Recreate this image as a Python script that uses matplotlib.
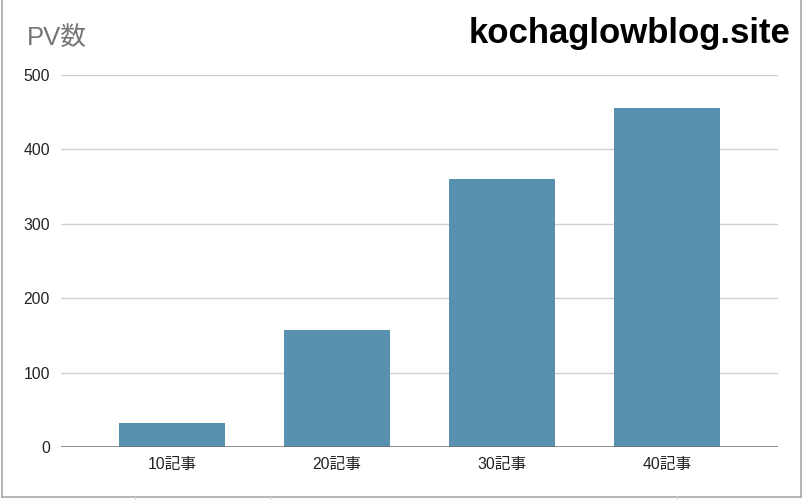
import matplotlib
matplotlib.use('Agg')
import matplotlib.pyplot as plt
from matplotlib.lines import Line2D

plt.rcParams['font.family'] = ['Liberation Sans', 'Noto Sans CJK JP', 'DejaVu Sans']

# データ
categories = ['10記事', '20記事', '30記事', '40記事']
pv_values = [32, 157, 360, 456]
y_ticks = [0, 100, 200, 300, 400, 500]

fig = plt.figure(figsize=(8.05, 5.00), dpi=100)
ax = fig.add_axes([61 / 805, 1 - 447 / 500, (778 - 61) / 805, (447 - 75) / 500])

x = list(range(len(categories)))
ax.bar(x, pv_values, width=0.645, color='#5891AF', zorder=3)

ax.set_xlim(-0.674, 3.674)
ax.set_ylim(0, 500)
ax.set_yticks(y_ticks)
ax.set_xticks(x)
ax.set_xticklabels(categories)
ax.grid(axis='y', color='#d0d0d0', linewidth=1.0, zorder=0)
ax.axhline(0, color='#6f6f6f', linewidth=1.8, zorder=4)

for s in ax.spines.values():
    s.set_visible(False)
ax.tick_params(axis='both', length=0, labelsize=11.3, colors='#222222')
ax.tick_params(axis='y', pad=8)
ax.tick_params(axis='x', pad=7)

fig.text(27 / 805, 1 - 38 / 500, 'PV数', fontsize=18.5, color='#757575',
         ha='left', va='center')
fig.text(790 / 805, 1 - 33 / 500, 'kochaglowblog.site', fontsize=25,
         fontweight='bold', color='#000000', ha='right', va='center')

# スクリーンショットの枠線
frame_kw = dict(color='#a8a8a8', linewidth=1.2, transform=fig.transFigure)
fig.add_artist(Line2D([1.5 / 805, 1.5 / 805], [1 - 497 / 500, 1], **frame_kw))
fig.add_artist(Line2D([801 / 805, 801 / 805], [1 - 497 / 500, 1], **frame_kw))
fig.add_artist(Line2D([1.5 / 805, 801 / 805], [1 - 497 / 500, 1 - 497 / 500], **frame_kw))
for xc in [135, 270, 677]:
    fig.add_artist(Line2D([xc / 805, xc / 805], [0, 1 - 497 / 500],
                          color='#d8d8d8', linewidth=1, transform=fig.transFigure))

fig.savefig('out.png', dpi=100)
